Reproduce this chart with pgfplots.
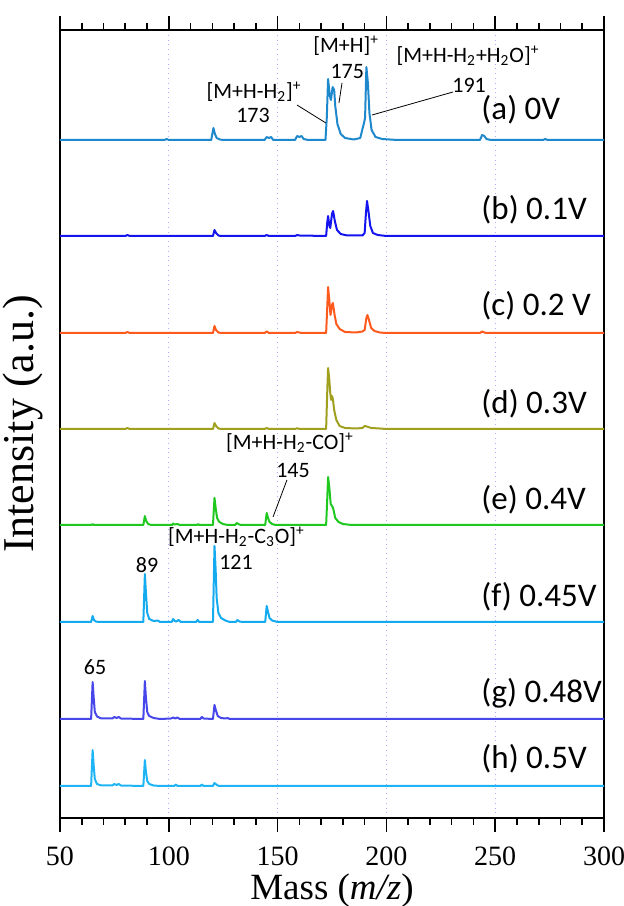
\documentclass[border=0pt]{standalone}
\usepackage{pgfplots}
\pgfplotsset{compat=1.18}
\usepackage{fontspec}
\setmainfont{Liberation Serif}
\newfontfamily\calfont{Carlito}
\definecolor{ca}{RGB}{30,136,204}
\definecolor{cb}{RGB}{20,20,238}
\definecolor{cc}{RGB}{255,90,30}
\definecolor{cd}{RGB}{160,160,30}
\definecolor{ce}{RGB}{30,200,30}
\definecolor{cf}{RGB}{20,170,240}
\definecolor{cg}{RGB}{70,70,235}
\definecolor{ch}{RGB}{30,180,245}
\definecolor{gridc}{RGB}{175,175,250}
\begin{document}
\begin{tikzpicture}
\path[use as bounding box] (-30pt,-44pt) rectangle (282pt,409pt);
\begin{axis}[
  at={(0,0)}, anchor=south west,
  width=272pt, height=394pt, scale only axis,
  xmin=50, xmax=300, ymin=0, ymax=788,
  xtick={50,100,150,200,250,300},
  minor x tick num=4,
  ytick=\empty,
  xtick pos=both, xticklabel pos=left,
  tick align=outside,
  major tick length=7pt, minor tick length=3.5pt,
  every tick/.style={black, line width=0.8pt},
  axis line style={line width=1pt},
  xmajorgrids,
  major grid style={gridc, dotted, line width=0.6pt},
  /pgf/number format/assume math mode=true,
  ticklabel style={font=\fontsize{14}{14}\selectfont},
  xticklabel style={yshift=-4pt},
  xlabel={Mass (\textit{m/z})},
  xlabel style={font=\fontsize{18.5}{20}\selectfont, yshift=3pt},
  ylabel={Intensity (a.u.)},
  ylabel style={font=\fontsize{22}{24}\selectfont, yshift=-2pt},
  every axis plot/.append style={line width=1pt, line join=round},
]
% (a) 0V
\addplot[ca] coordinates {(50,678) (98,678) (99,679) (100,678) (119.5,678) (120.5,690) (121.2,684) (122,680) (123.5,678.5) (125,678) (144,678) (145,681) (146,680) (147,681) (148,678) (158,678) (159,682) (160,681) (161,682) (162,679) (164,678) (172,678) (172.6,700) (173.2,739) (174,722) (174.5,718) (175.3,731) (176,728) (176.5,712) (177.5,694) (179,684) (181,680) (185,678.5) (188,680) (189,689) (189.7,695) (190.2,700) (190.8,751) (191.5,735) (192.2,705) (193.2,688) (195,681) (198,679) (205,678) (243,678) (244,683) (245,682) (246,679) (248,678) (272,678) (273,679) (274,678) (300,678)};
% (b) 0.1V
\addplot[cb] coordinates {(50,582) (80,582) (81,583) (82,582) (120.3,582) (121,588) (121.7,585) (122.8,582.5) (124,582) (144,582) (145,583) (146,582) (158,582) (159,583) (160,582.5) (172.3,582) (172.8,595) (173.2,602) (173.8,592) (174.2,590) (175,604) (175.5,607) (176.3,597) (177.3,588) (179,584) (182,582.5) (189,582.5) (190,585) (190.6,605) (191.1,617) (191.8,606) (192.6,592) (193.8,585) (196,583) (200,582) (300,582)};
% (c) 0.2V
\addplot[cc] coordinates {(50,485) (80,485) (81,486) (82,485) (120.3,485) (121,492) (121.7,488) (122.8,485.5) (124,485) (144,485) (145,486.5) (146,485) (158,485) (159,486) (160,485.5) (161,485) (172.3,485) (172.8,510) (173.2,531) (173.8,517) (174.3,503) (175,513) (175.4,515) (176.2,503) (177,494) (178.5,489) (181,486) (186,485.5) (189,486.5) (190,488) (190.8,500) (191.3,503) (192,498) (193,490) (194.5,487) (197,485.5) (200,485) (243,485) (244,486.5) (245,485.5) (246,485) (300,485)};
% (d) 0.3V
\addplot[cd] coordinates {(50,389) (80,389) (81,390) (82,389) (120.3,389) (121,395) (121.7,392) (122.8,389.5) (124,389) (144,389) (145,390) (146,389) (158,389) (159,389.8) (160,389) (172.3,389) (172.8,425) (173.2,450) (173.7,440) (174.2,425) (174.6,418) (175,422) (175.4,419) (176,408) (177,398) (178.5,392) (181,390) (186,389.5) (189,390) (190,392) (191,391.5) (193,390) (197,389.5) (200,389) (300,389)};
% (e) 0.4V
\addplot[ce] coordinates {(50,293) (64.5,293) (65,294) (65.5,293) (88.3,293) (89,302) (89.6,297) (90.5,294) (92,293) (101.5,293) (102,294.5) (102.6,293.5) (104,294) (105,293) (113,293) (113.5,294) (114,293) (120.3,293) (121,320) (121.6,309) (122.2,300) (123.2,296) (125,294) (127,293) (130.5,293) (131.2,295) (132,294) (133,293) (144.3,293) (145,305) (145.6,300) (146.3,296) (147.5,294) (149,293) (172.3,293) (172.8,318) (173.2,341) (173.8,330) (174.4,314) (175,312) (175.5,310) (176.5,300) (178,296) (180,294) (184,293) (300,293)};
% (f) 0.45V
\addplot[cf] coordinates {(50,196) (64.3,196) (65,202) (65.6,198) (66.5,196.5) (68,196) (88.3,196) (89,244) (89.5,225) (90.1,205) (91,199) (93,197) (95,197.5) (96,196) (101.3,196) (102,199) (102.7,197) (103.5,196.5) (104.5,198) (105.5,196) (112.5,196) (113.3,198) (114,196) (120.3,196) (121,272) (121.5,250) (122,220) (122.8,205) (124,200) (126,197.5) (128,196) (130.8,196) (131.5,198) (132.5,196.5) (134,196) (144.3,196) (145,212) (145.6,206) (146.3,200) (147.5,197.5) (150,196) (300,196)};
% (g) 0.48V
\addplot[cg] coordinates {(50,99) (64.3,99) (65,136) (65.5,120) (66,106) (67,101.5) (69,99.5) (74,99.5) (75,101) (76,100) (77,101) (78,99.5) (88.3,99) (89,137) (89.5,120) (90.1,106) (91,102) (93,100) (96,99) (101,99.5) (102,100.5) (103,99.5) (104,100.5) (105,99) (114.5,99) (115.2,101) (116,99.5) (120.3,99) (121,113) (121.6,108) (122.5,102) (124,100) (126,99.5) (127,100) (128,99) (300,99)};
% (h) 0.5V
\addplot[ch] coordinates {(50,32) (64.3,32) (65,68) (65.5,52) (66,39) (67,34) (69,32.5) (74,32.5) (75,34) (76,33) (77,34) (78,32.5) (88.3,32) (89,58) (89.5,46) (90.1,37) (91,34) (93,32.5) (96,32) (102.5,32) (103.3,33.5) (104,32) (114.5,32) (115.2,33.5) (116,32) (120.3,32) (121,35) (121.8,33.5) (123,32) (300,32)};
% series labels
\begin{scope}[every node/.style={font=\calfont\fontsize{16.5}{18}\selectfont, anchor=west, inner sep=0pt}]
\node at (axis cs:243.5,708) {(a) 0V};
\node at (axis cs:243.5,608) {(b) 0.1V};
\node at (axis cs:243.5,512) {(c) 0.2 V};
\node at (axis cs:243.5,414) {(d) 0.3V};
\node at (axis cs:243.5,318) {(e) 0.4V};
\node at (axis cs:243.5,221) {(f) 0.45V};
\node at (axis cs:243.5,125) {(g) 0.48V};
\node at (axis cs:243.5,59) {(h) 0.5V};
\end{scope}
% annotations
\begin{scope}[every node/.style={font=\calfont\fontsize{11}{12}\selectfont, inner sep=0pt}]
\node at (axis cs:139.2,726) {[M+H-H\textsubscript{2}]\textsuperscript{+}};
\node at (axis cs:138.7,703) {173};
\node at (axis cs:181.5,772) {[M+H]\textsuperscript{+}};
\node at (axis cs:182,746) {175};
\node at (axis cs:237.5,762) {[M+H-H\textsubscript{2}+H\textsubscript{2}O]\textsuperscript{+}};
\node at (axis cs:238,733) {191};
\node at (axis cs:155.7,375) {[M+H-H\textsubscript{2}-CO]\textsuperscript{+}};
\node at (axis cs:157.1,348) {145};
\node at (axis cs:131.1,281) {[M+H-H\textsubscript{2}-C\textsubscript{3}O]\textsuperscript{+}};
\node at (axis cs:130.9,256) {121};
\node at (axis cs:90,253) {89};
\node at (axis cs:66.1,151) {65};
\end{scope}
\draw[line width=0.4pt] (axis cs:158.9,713) -- (axis cs:172.2,695);
\draw[line width=0.4pt] (axis cs:179.6,735) -- (axis cs:178.2,715);
\draw[line width=0.4pt] (axis cs:230.6,726) -- (axis cs:193.4,703);
\draw[line width=0.4pt] (axis cs:154.3,338) -- (axis cs:147.9,301);
\end{axis}
\end{tikzpicture}
\end{document}
